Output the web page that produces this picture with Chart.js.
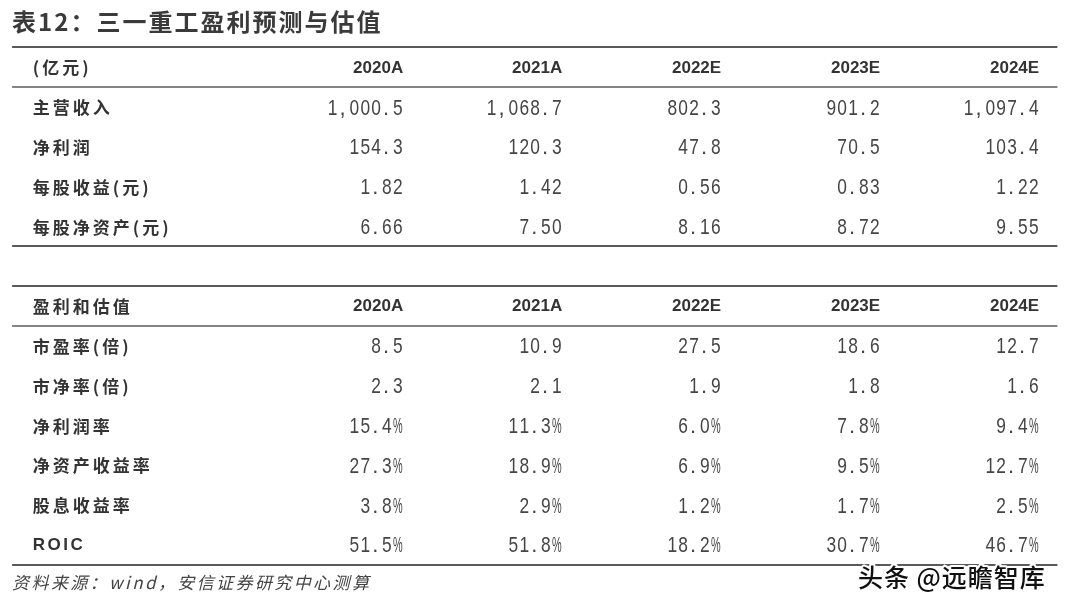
<!DOCTYPE html>
<html>
<head>
<meta charset="utf-8">
<script src="https://cdn.jsdelivr.net/npm/chart.js@4.4.1/dist/chart.umd.min.js"></script>
<style>
html,body{margin:0;padding:0;background:#fff;}
#wrap{width:1080px;height:609px;position:relative;}
</style>
</head>
<body>
<div id="wrap"><canvas id="c"></canvas></div>
<script>
// ---------------- DATA ----------------
const title = '表12：三一重工盈利预测与估值';
const source = '资料来源：wind，安信证券研究中心测算';
const watermark = '头条 @远瞻智库';
const years = ['2020A', '2021A', '2022E', '2023E', '2024E'];

const section1Header = '(亿元)';
const section1Labels = ['主营收入', '净利润', '每股收益(元)', '每股净资产(元)'];
const revenue   = [1000.5, 1068.7, 802.3, 901.2, 1097.4];
const netProfit = [154.3, 120.3, 47.8, 70.5, 103.4];
const eps       = [1.82, 1.42, 0.56, 0.83, 1.22];
const bvps      = [6.66, 7.50, 8.16, 8.72, 9.55];

const section2Header = '盈利和估值';
const section2Labels = ['市盈率(倍)', '市净率(倍)', '净利润率', '净资产收益率', '股息收益率', 'ROIC'];
const peRatio       = [8.5, 10.9, 27.5, 18.6, 12.7];
const pbRatio       = [2.3, 2.1, 1.9, 1.8, 1.6];
const netMargin     = [15.4, 11.3, 6.0, 7.8, 9.4];
const roe           = [27.3, 18.9, 6.9, 9.5, 12.7];
const dividendYield = [3.8, 2.9, 1.2, 1.7, 2.5];
const roic          = [51.5, 51.8, 18.2, 30.7, 46.7];

// ---------------- FORMATTERS ----------------
const fmtThousands1 = v => v.toLocaleString('en-US', {minimumFractionDigits: 1, maximumFractionDigits: 1});
const fmt1 = v => v.toFixed(1);
const fmt2 = v => v.toFixed(2);
const fmtPct = v => v.toFixed(1) + '%';

const section1Rows = [
  {series: revenue, fmt: fmtThousands1},
  {series: netProfit, fmt: fmt1},
  {series: eps, fmt: fmt2},
  {series: bvps, fmt: fmt2}
];
const section2Rows = [
  {series: peRatio, fmt: fmt1},
  {series: pbRatio, fmt: fmt1},
  {series: netMargin, fmt: fmtPct},
  {series: roe, fmt: fmtPct},
  {series: dividendYield, fmt: fmtPct},
  {series: roic, fmt: fmtPct}
];
const HEADER1_ROW = 0, SEC1_START = 1, HEADER2_ROW = 6, SEC2_START = 7;

// ---------------- LAYOUT (styles / positions, not data) ----------------
const X_MIN = -1.536, X_MAX = 5.257;      // table column units
const Y_MIN = -1.6834, Y_MAX = 13.618;    // table row units
const LABEL_COL = -1.33;                  // label column left edge (column units)
const TABLE_LEFT = -1.46, TABLE_RIGHT = 5.115;
const RULES = [
  {row: -0.5, w: 2}, {row: 0.5, w: 1.5}, {row: 4.5, w: 2},
  {row: 5.5, w: 2}, {row: 6.5, w: 1.5}, {row: 12.5, w: 2}
];

// ---------------- BUILD DATASETS ----------------
const labelPoints = [];
labelPoints.push({x: LABEL_COL, y: HEADER1_ROW, text: section1Header, kind: 'label'});
section1Labels.forEach((t, i) => labelPoints.push({x: LABEL_COL, y: SEC1_START + i, text: t, kind: 'label'}));
labelPoints.push({x: LABEL_COL, y: HEADER2_ROW, text: section2Header, kind: 'label'});
section2Labels.forEach((t, i) => labelPoints.push({x: LABEL_COL, y: SEC2_START + i, text: t, kind: /^[A-Z]+$/.test(t) ? 'latinLabel' : 'label'}));

const datasets = [{label: 'labels', data: labelPoints}];
years.forEach((yr, c) => {
  const col = c + 1;
  const pts = [];
  pts.push({x: col, y: HEADER1_ROW, text: yr, kind: 'year'});
  section1Rows.forEach((r, i) => pts.push({x: col, y: SEC1_START + i, text: r.fmt(r.series[c]), kind: 'value'}));
  pts.push({x: col, y: HEADER2_ROW, text: yr, kind: 'year'});
  section2Rows.forEach((r, i) => pts.push({x: col, y: SEC2_START + i, text: r.fmt(r.series[c]), kind: 'value'}));
  datasets.push({label: yr, data: pts});
});
datasets.forEach(d => { d.pointRadius = 0; d.pointHoverRadius = 0; d.showLine = false; });

// ---------------- DRAWING PLUGIN ----------------
function drawMono(ctx, text, rightX, y) {
  const adv = 10.85;
  ctx.font = '22px "Liberation Sans", Arial, sans-serif';
  ctx.textAlign = 'left';
  ctx.textBaseline = 'alphabetic';
  ctx.letterSpacing = '0px';
  const base = y + 7.8;
  let x = rightX - text.length * adv;
  for (const ch of text) {
    const w = ctx.measureText(ch).width;
    const sx = Math.min(1, (adv - 1.2) / w);
    const off = (ch === '.' || ch === ',') ? 1.5 : (adv - w * sx) / 2;
    ctx.save();
    ctx.translate(x + off, base);
    ctx.scale(sx, 1);
    ctx.fillText(ch, 0, 0);
    ctx.restore();
    x += adv;
  }
}

const tablePlugin = {
  id: 'tableText',
  afterDatasetsDraw(chart) {
    const ctx = chart.ctx;
    const xs = chart.scales.x, ys = chart.scales.y;
    ctx.save();

    // title
    ctx.fillStyle = '#3a3a3a';
    ctx.font = '600 24px "Noto Sans CJK SC", sans-serif';
    ctx.letterSpacing = '2px';
    ctx.textAlign = 'left';
    ctx.textBaseline = 'middle';
    ctx.fillText(title, xs.getPixelForValue(TABLE_LEFT), ys.getPixelForValue(-1.14));

    // rules
    ctx.strokeStyle = '#5a5a5a';
    RULES.forEach(r => {
      const y = Math.round(ys.getPixelForValue(r.row));
      ctx.lineWidth = r.w;
      ctx.beginPath();
      ctx.moveTo(xs.getPixelForValue(TABLE_LEFT), y);
      ctx.lineTo(xs.getPixelForValue(TABLE_RIGHT), y);
      ctx.stroke();
    });

    // cells
    chart.data.datasets.forEach((ds, di) => {
      const meta = chart.getDatasetMeta(di);
      meta.data.forEach((el, i) => {
        const p = ds.data[i];
        const x = el.x, y = el.y;
        ctx.textBaseline = 'middle';
        if (p.kind === 'label') {
          ctx.fillStyle = '#333';
          ctx.font = '600 17px "Noto Sans CJK SC", sans-serif';
          ctx.letterSpacing = '3px';
          ctx.textAlign = 'left';
          ctx.fillText(p.text, x, y + 1);
        } else if (p.kind === 'latinLabel') {
          ctx.fillStyle = '#333';
          ctx.font = 'bold 17px "Liberation Sans", sans-serif';
          ctx.letterSpacing = '2.5px';
          ctx.textAlign = 'left';
          ctx.fillText(p.text, x, y + 1);
        } else if (p.kind === 'year') {
          ctx.fillStyle = '#333';
          ctx.font = 'bold 17px "Liberation Sans", sans-serif';
          ctx.letterSpacing = '0px';
          ctx.textAlign = 'right';
          ctx.fillText(p.text, x, y + 1);
        } else {
          ctx.fillStyle = '#454545';
          drawMono(ctx, p.text, x, y);
        }
      });
    });

    // source note
    ctx.fillStyle = '#444';
    ctx.font = 'italic 17px "Noto Sans CJK SC", sans-serif';
    ctx.letterSpacing = '2.4px';
    ctx.textAlign = 'left';
    ctx.textBaseline = 'middle';
    ctx.fillText(source, xs.getPixelForValue(TABLE_LEFT), ys.getPixelForValue(12.96));

    // watermark
    ctx.font = '500 25px "Noto Sans CJK SC", sans-serif';
    ctx.letterSpacing = '1px';
    ctx.lineJoin = 'round';
    ctx.strokeStyle = '#fff';
    ctx.lineWidth = 4;
    const wx = xs.getPixelForValue(3.86), wy = ys.getPixelForValue(12.83);
    ctx.strokeText(watermark, wx, wy);
    ctx.fillStyle = '#111';
    ctx.fillText(watermark, wx, wy);

    ctx.restore();
  }
};

new Chart(document.getElementById('c'), {
  type: 'scatter',
  data: {datasets},
  options: {
    responsive: true,
    maintainAspectRatio: false,
    animation: false,
    events: [],
    layout: {padding: 0},
    plugins: {legend: {display: false}, tooltip: {enabled: false}},
    scales: {
      x: {type: 'linear', display: false, min: X_MIN, max: X_MAX},
      y: {type: 'linear', display: false, reverse: true, min: Y_MIN, max: Y_MAX}
    }
  },
  plugins: [tablePlugin]
});
</script>
</body>
</html>
